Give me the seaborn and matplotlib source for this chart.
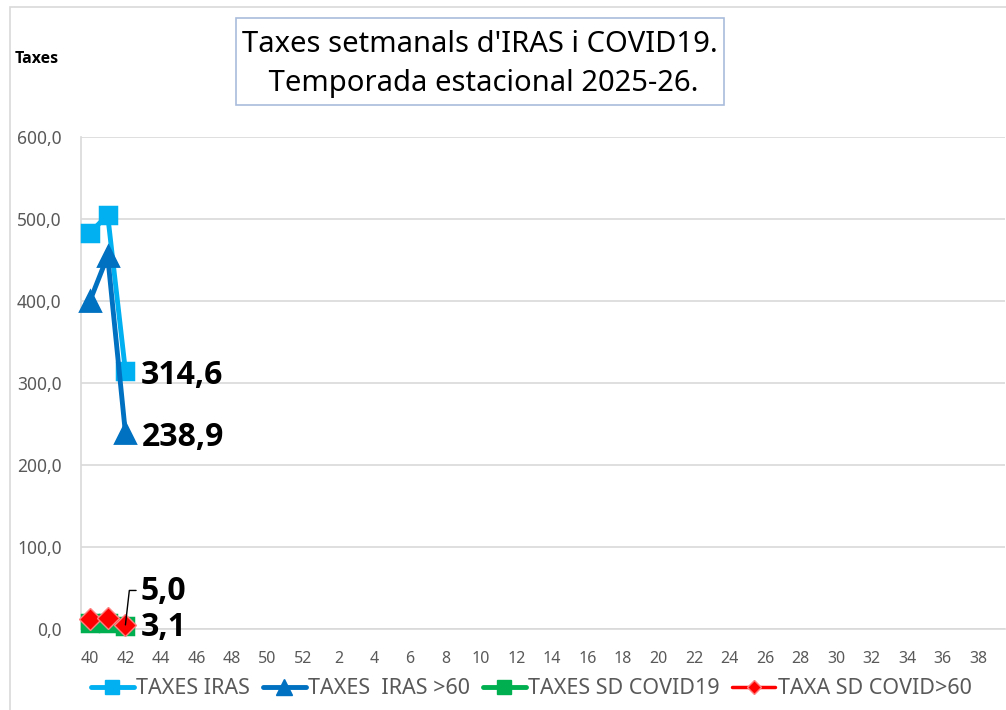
import matplotlib
matplotlib.use("Agg")
import matplotlib.pyplot as plt
from matplotlib.patches import Rectangle
from matplotlib.lines import Line2D
import seaborn as sns
import numpy as np

# season weeks 40..52 then 1..39
weeks = list(range(40, 53)) + list(range(1, 40))

taxes_iras = [483.0, 505.0, 314.6]
taxes_iras_60 = [400.0, 455.0, 238.9]
taxes_sd_covid = [7.0, 7.5, 3.1]
taxa_sd_covid_60 = [12.0, 13.5, 5.0]

series_names = ["TAXES IRAS", "TAXES  IRAS >60", "TAXES SD COVID19", "TAXA SD COVID>60"]
title_lines = ["Taxes setmanals d'IRAS i COVID19.", " Temporada estacional 2025-26."]

sns.set_theme(style="white")
plt.rcParams['font.family'] = ['Noto Sans', 'DejaVu Sans']
bold_fam = ['Open Sans', 'Lato', 'DejaVu Sans']

fig = plt.figure(figsize=(10.06, 7.10), dpi=100)
ax = fig.add_axes([81 / 1006, 81 / 710, (1005 - 81) / 1006, (629 - 137) / 710])

sns.lineplot(x=np.arange(len(taxes_iras)), y=taxes_iras, ax=ax, color="#00B0F0", lw=3.5,
             marker="s", markersize=11, markeredgecolor="#00B0F0", markeredgewidth=2.5,
             zorder=3, clip_on=False)
sns.lineplot(x=np.arange(len(taxes_iras_60)), y=taxes_iras_60, ax=ax, color="#0070C0", lw=3.5,
             marker="^", markersize=14, markeredgecolor="#0070C0", markeredgewidth=2,
             zorder=4, clip_on=False)
sns.lineplot(x=np.arange(len(taxes_sd_covid)), y=taxes_sd_covid, ax=ax, color="#00B050", lw=3.5,
             marker="s", markersize=11, markeredgecolor="#00B050", markeredgewidth=2.5,
             zorder=5, clip_on=False)
sns.lineplot(x=np.arange(len(taxa_sd_covid_60)), y=taxa_sd_covid_60, ax=ax, color="#FF0000", lw=2.5,
             marker="D", markersize=11, markeredgecolor="#FF8080", markeredgewidth=1,
             zorder=6, clip_on=False)

ax.set_xlim(-0.5, len(weeks) - 0.5)
ax.set_ylim(0, 600)
ax.set_xticks(np.arange(0, len(weeks), 2))
ax.set_xticklabels([str(w) for w in weeks[::2]])
ax.set_yticks(np.arange(0, 601, 100))
ax.set_yticklabels([f"{v:.1f}".replace(".", ",") for v in np.arange(0, 601, 100)])
ax.tick_params(axis="y", colors="#595959", labelsize=12.5, length=0, pad=14)
ax.tick_params(axis="x", colors="#595959", labelsize=11.5, length=0, pad=16)
ax.yaxis.grid(True, color="#D9D9D9", lw=1.2)
ax.xaxis.grid(False)
for side in ["top", "right"]:
    ax.spines[side].set_visible(False)
ax.spines["left"].set_color("#D9D9D9")
ax.spines["bottom"].set_color("#D9D9D9")
ax.spines["left"].set_linewidth(1.2)
ax.spines["bottom"].set_linewidth(1.2)

# data labels for last week
lab_kw = dict(fontsize=23, fontweight="bold", family=bold_fam, color="black",
              va="center", ha="left")
ax.annotate(f"{taxes_iras[-1]:.1f}".replace(".", ","), (2, taxes_iras[-1]),
            xytext=(11, -3), textcoords="offset points", **lab_kw)
ax.annotate(f"{taxes_iras_60[-1]:.1f}".replace(".", ","), (2, taxes_iras_60[-1]),
            xytext=(12, -3), textcoords="offset points", **lab_kw)
ax.annotate(f"{taxa_sd_covid_60[-1]:.1f}".replace(".", ","), (2, taxa_sd_covid_60[-1]),
            xytext=(11, 24), textcoords="offset points", **lab_kw)
ax.annotate(f"{taxes_sd_covid[-1]:.1f}".replace(".", ","), (2, taxes_sd_covid[-1]),
            xytext=(11, -1), textcoords="offset points", **lab_kw)
# leader line for 5,0
ax.plot([2, 2.22, 2.6], [taxa_sd_covid_60[-1], 47, 47], color="black", lw=1, zorder=7,
        clip_on=False)

# y-axis title
fig.text(15 / 1006, 1 - 59 / 710, "Taxes", fontsize=11.5, fontweight="bold",
         family=bold_fam, color="black", ha="left", va="center")

# title box
fig.patches.append(Rectangle((236 / 1006, 1 - 105 / 710), (724 - 236) / 1006, 87 / 710,
                             transform=fig.transFigure, fill=False,
                             edgecolor="#A9BCDC", lw=1.2))
fig.text(480 / 1006, 1 - 64 / 710, "\n".join(title_lines), fontsize=21,
         color="black", ha="center", va="center", linespacing=1.45)

# outer chart frame
fig.patches.append(Rectangle((10 / 1006, -0.1), 1.5, 1 - 7 / 710 + 0.1,
                             transform=fig.transFigure, fill=False,
                             edgecolor="#D9D9D9", lw=1.2))

handles = [
    Line2D([], [], color="#00B0F0", lw=3.5, marker="s", markersize=10),
    Line2D([], [], color="#0070C0", lw=3.5, marker="^", markersize=12),
    Line2D([], [], color="#00B050", lw=3.5, marker="s", markersize=10),
    Line2D([], [], color="#FF0000", lw=2.5, marker="D", markersize=7,
           markeredgecolor="#FF8080"),
]
leg = fig.legend(handles, series_names, loc="center", bbox_to_anchor=(531 / 1006, 1 - 689 / 710),
                 ncol=4, frameon=False, handlelength=2.0, handletextpad=0.1,
                 columnspacing=0.6, prop={"size": 15.5})
for t in leg.get_texts():
    t.set_color("#595959")

fig.savefig("out.png", dpi=100)
